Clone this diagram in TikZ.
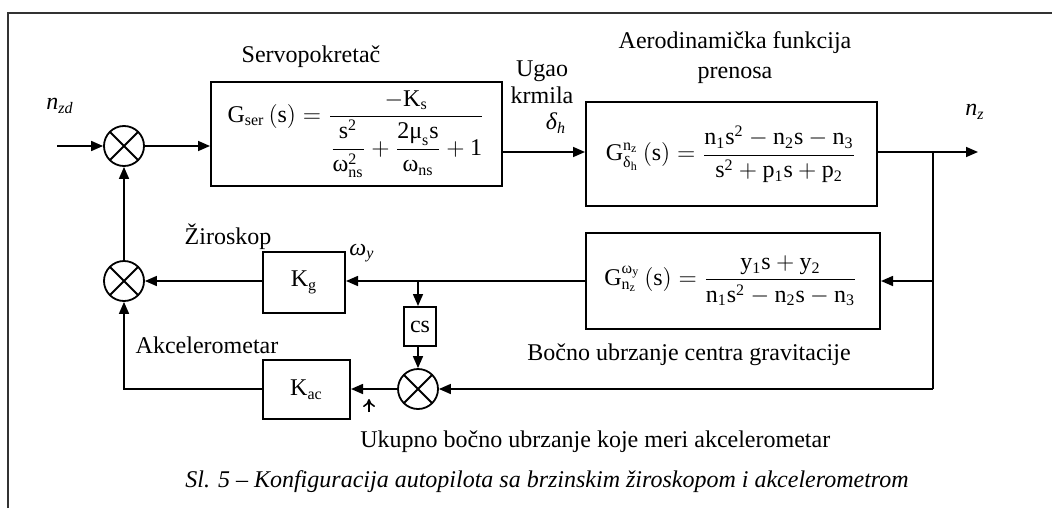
\documentclass[tikz,border=0pt]{standalone}
\usepackage{amsmath}
\usepackage{fontspec}
\setmainfont{Liberation Serif}
\usetikzlibrary{arrows.meta,fit,calc}
\newcommand{\rmx}[1]{\mathrm{#1}}
\begin{document}
\begin{tikzpicture}[x=0.5pt,y=-0.5pt,
  every node/.style={font=\fontsize{12}{14}\selectfont, inner sep=0pt},
  box/.style={draw, line width=1pt, inner sep=0pt},
  sumnode/.style={circle, draw, line width=0.9pt, minimum size=20pt, inner sep=0pt,
    path picture={\draw[line width=0.9pt] (path picture bounding box.north west) -- (path picture bounding box.south east)
      (path picture bounding box.north east) -- (path picture bounding box.south west);}},
  conn/.style={line width=0.8pt},
  arr/.style={conn, -{Triangle[length=6pt,width=5pt]}},
  frame/.style={line width=1pt, draw=black!80}
]
\useasboundingbox (0,0) rectangle (1052,508);
% frame
\draw[frame] (8,508) -- (8,13) -- (1052,13);

% summing junctions
\node[sumnode] (s1) at (124,146) {};
\node[sumnode] (s2) at (124,281) {};
\node[sumnode] (s3) at (418,389) {};

% boxes
\node[box, fit={(211,82) (502,186)}] (servo) {};
\node[box, fit={(586,102) (877,206)}] (aero) {};
\node[box, fit={(586,233) (880,329)}] (fb) {};
\node[box, fit={(263,252) (345,313)}] (kg) {};
\node[box, fit={(404,307) (436,346)}] (cs) {};
\node[box, fit={(263,360) (350,419)}] (kac) {};

% box contents
\node (fservo) at (356,134) {$\rmx{G}_{\rmx{ser}}\,(\rmx{s})=\dfrac{-\rmx{K}_{\rmx{s}}}{\dfrac{\rmx{s}^{\rmx{2}}}{\text{ω}_{\rmx{ns}}^{\rmx{2}}}+\dfrac{\rmx{2}\text{μ}_{\rmx{s}}\rmx{s}}{\text{ω}_{\rmx{ns}}}+\rmx{1}}$};
\node (faero) at (731,154) {$\rmx{G}_{\text{δ}_{\rmx{h}}}^{\rmx{n}_{\rmx{z}}}\,(\rmx{s})=\dfrac{\rmx{n}_{\rmx{1}}\rmx{s}^{\rmx{2}}-\rmx{n}_{\rmx{2}}\rmx{s}-\rmx{n}_{\rmx{3}}}{\rmx{s}^{\rmx{2}}+\rmx{p}_{\rmx{1}}\rmx{s}+\rmx{p}_{\rmx{2}}}$};
\node (ffb) at (731,281) {$\rmx{G}_{\rmx{n}_{\rmx{z}}}^{\text{ω}_{\rmx{y}}}\,(\rmx{s})=\dfrac{\rmx{y}_{\rmx{1}}\rmx{s}+\rmx{y}_{\rmx{2}}}{\rmx{n}_{\rmx{1}}\rmx{s}^{\rmx{2}}-\rmx{n}_{\rmx{2}}\rmx{s}-\rmx{n}_{\rmx{3}}}$};
\node at (kg.center) {$\rmx{K}_{\rmx{g}}$};
\node at (cs.center) {cs};
\node at (kac.center) {$\rmx{K}_{\rmx{ac}}$};

% coordinates
\coordinate (in) at (57,146);
\coordinate (out) at (978,152);
\coordinate (b1) at (933,152);
\coordinate (b2) at (933,389);
\coordinate (b3) at (418,281);
\coordinate (b4) at (124,389);
\coordinate (mk1) at (369,412);
\coordinate (mk2) at (369,399);

% connectors
\draw[arr] (in) -- (s1.west);
\draw[arr] (s1.east) -- (s1.east -| servo.west);
\draw[arr] (servo.east |- b1) -- (aero.west |- b1);
\draw[arr] (aero.east |- b1) -- (out);
\draw[conn] (b1) -- (b2);
\draw[arr] (fb.east -| b1) -- (fb.east);
\draw[arr] (fb.west) -- (fb.west -| kg.east);
\draw[arr] (kg.west |- s2) -- (s2.east);
\draw[arr] (b3) -- (cs.north -| b3);
\draw[arr] (cs.south -| s3) -- (s3.north);
\draw[arr] (b2) -- (s3.east);
\draw[arr] (s3.west) -- (s3.west -| kac.east);
\draw[arr] (kac.west |- b4) -- (b4) -- (s2.south);
\draw[arr] (s2.north) -- (s1.south);
\draw[conn, -{To[length=4pt,width=6pt]}] (mk1) -- (mk2);

% labels
\node at (60,106) {$\text{\itshape n}_{\text{\itshape zd}}$};
\node at (311,57) {Servopokretač};
\node[align=center, font=\fontsize{12}{13.5}\selectfont] at (542,82) {Ugao\\krmila};
\node at (556,123) {$\text{\itshape δ}_{\text{\itshape h}}$};
\node[align=center, font=\fontsize{12}{15}\selectfont] at (735,58) {Aerodinamička funkcija\\prenosa};
\node at (975,112) {$\text{\itshape n}_{\text{\itshape z}}$};
\node at (228,237) {Žiroskop};
\node at (362,253) {$\text{\itshape ω}_{\text{\itshape y}}$};
\node at (207,345) {Akcelerometar};
\node at (689,355) {Bočno ubrzanje centra gravitacije};
\node[anchor=base west] at (360,447) {Ukupno bočno ubrzanje koje meri akcelerometar};
\node[anchor=base west, font=\fontsize{12}{14}\selectfont\itshape] at (185,487) {Sl. 5 – Konfiguracija autopilota sa brzinskim žiroskopom i akcelerometrom};
\end{tikzpicture}
\end{document}
